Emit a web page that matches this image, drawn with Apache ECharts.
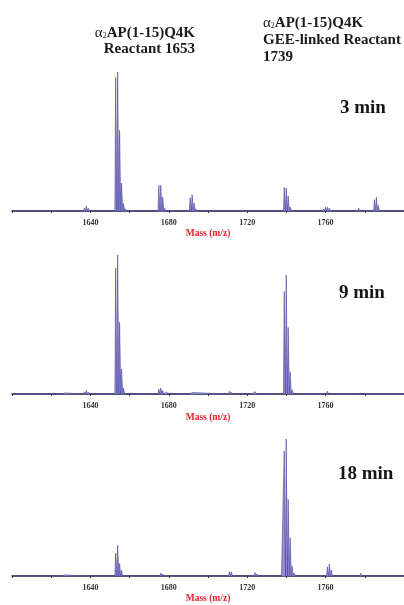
<!DOCTYPE html>
<html>
<head>
<meta charset="utf-8">
<script src="https://cdn.jsdelivr.net/npm/echarts@6/dist/echarts.min.js"></script>
<style>
html,body{margin:0;padding:0;background:#fff;}
#chart{width:404px;height:605px;}
</style>
</head>
<body>
<div id="chart"></div>
<script>
// Panel labels
const panelLabels = ['3 min', '9 min', '18 min'];
// x-axis tick labels (m/z)
const tickLabels = [1640, 1680, 1720, 1760];
const massMin = 1600, massMax = 1800, massStep = 40;

// Peaks: [m/z, relative intensity %]
const peaks3 = [[1626,0.6],[1637,2.0],[1638,3.5],[1639,2.0],[1653,96],[1654,100],[1655,58],[1656,20],[1657,5.3],[1658,1.5],
  [1675,18.5],[1676,18.5],[1677,10],[1678,2],[1679,1.2],[1691,9.6],[1692,11.7],[1693,5.8],[1694,1.5],[1712,0.8],[1724,0.8],
  [1739,17],[1740,16.5],[1741,10.8],[1742,2.9],[1743,1],[1759,1.5],[1760,2.8],[1761,2.8],[1762,2],[1763,1],[1777,2],[1778,1],
  [1785,8.2],[1786,10],[1787,4],[1788,1]];
const peaks9 = [[1626,1.2],[1627,0.8],[1637,1.5],[1638,2.6],[1639,1.5],[1653,90.5],[1654,100],[1655,51.5],[1656,18],[1657,4.3],[1658,1],
  [1675,3.5],[1676,4.3],[1677,2.5],[1679,1.5],[1691,1.3],[1692,1],[1711,2],[1712,1.5],[1723,1.2],[1724,1.8],[1725,1],
  [1739,73.7],[1740,85.6],[1741,47.9],[1742,16],[1743,3.1],[1761,2],[1762,1.3],[1764,1],[1778,1.3]];
const peaks18 = [[1626,1.2],[1627,0.8],[1638,0.8],[1653,16.8],[1654,22.4],[1655,9.1],[1656,4.1],[1657,1],[1676,2.2],[1677,1.5],
  [1711,3.1],[1712,3],[1713,1],[1724,2.6],[1725,1.5],[1735,0.6],[1738,0.8],[1739,91.3],[1740,100],[1741,56],[1742,27.9],[1743,7.4],[1744,2],
  [1761,6.7],[1762,8.7],[1763,4.3],[1764,1.2],[1778,2],[1779,1.2]];

const allPeaks = [peaks3, peaks9, peaks18];

function spikes(peaks) {
  const out = [[massMin, 0]];
  peaks.forEach(function (p) {
    out.push([p[0] - 0.5, 0], [p[0] - 0.1, p[1]], [p[0] + 0.1, p[1]], [p[0] + 0.5, 0]);
  });
  out.push([massMax, 0]);
  return out;
}

const serif = 'Liberation Serif';
const gridTops = [72, 255, 439];
const nameGaps = [18, 19, 18];

const grids = gridTops.map(function (t) { return { left: 12, right: 0, top: t, height: 139 }; });
const xAxes = gridTops.map(function (t, i) {
  return {
    gridIndex: i, type: 'value', min: massMin, max: massMax, interval: massStep,
    axisLine: { lineStyle: { color: '#1e1e4e', width: 1.5 } },
    axisTick: { show: true, length: 2, lineStyle: { color: '#333' } },
    minorTick: { show: true, splitNumber: 2, length: 2, lineStyle: { color: '#333' } },
    splitLine: { show: false },
    axisLabel: {
      showMinLabel: false, showMaxLabel: false, margin: 8,
      fontFamily: serif, fontWeight: 'bold', fontSize: 8, color: '#333',
      formatter: function (v) { return tickLabels.indexOf(v) >= 0 ? String(v) : ''; }
    },
    name: 'Mass (m/z)', nameLocation: 'middle', nameGap: nameGaps[i],
    nameTextStyle: { color: '#e5212b', fontWeight: 'bold', fontFamily: serif, fontSize: 9.5 }
  };
});
const yAxes = gridTops.map(function (t, i) {
  return { gridIndex: i, type: 'value', min: 0, max: 100, show: false };
});
const series = allPeaks.map(function (pk, i) {
  return {
    type: 'line', xAxisIndex: i, yAxisIndex: i, data: spikes(pk),
    showSymbol: false, symbol: 'none', sampling: 'none',
    lineStyle: { color: '#463f9c', width: 0.6 },
    areaStyle: { color: '#9893d4', opacity: 1 },
    z: 3
  };
});

const labelY = [94, 279, 460];
const labelX = [335, 334, 333];
const titles = panelLabels.map(function (s, i) {
  return { text: s, left: labelX[i], top: labelY[i],
    textStyle: { fontFamily: serif, fontWeight: 'bold', fontSize: 19, color: '#151515' } };
});

const rich = {
  a: { fontFamily: serif, fontSize: 15, color: '#1a1a1a' },
  s: { fontFamily: serif, fontSize: 8, color: '#1a1a1a', padding: [6, 0, 0, 0] },
  b: { fontFamily: serif, fontSize: 15, fontWeight: 'bold', color: '#1a1a1a' }
};
function txt(x, y, text, align) {
  return { type: 'text', x: x, y: y, z: 10,
    style: { text: text, rich: rich, align: align, verticalAlign: 'middle',
      font: 'bold 15px "Liberation Serif"', fill: '#1a1a1a' } };
}
const graphics = [
  txt(195, 33, '{a|α}{s|2}{b|AP(1-15)Q4K}', 'right'),
  txt(195, 49, '{b|Reactant 1653}', 'right'),
  txt(263, 23, '{a|α}{s|2}{b|AP(1-15)Q4K}', 'left'),
  txt(263, 40, '{b|GEE-linked Reactant}', 'left'),
  txt(263, 57, '{b|1739}', 'left')
];

const chart = echarts.init(document.getElementById('chart'), null, { renderer: 'canvas' });
chart.setOption({
  animation: false,
  backgroundColor: '#fff',
  title: titles,
  grid: grids,
  xAxis: xAxes,
  yAxis: yAxes,
  series: series,
  graphic: graphics
});
</script>
</body>
</html>
